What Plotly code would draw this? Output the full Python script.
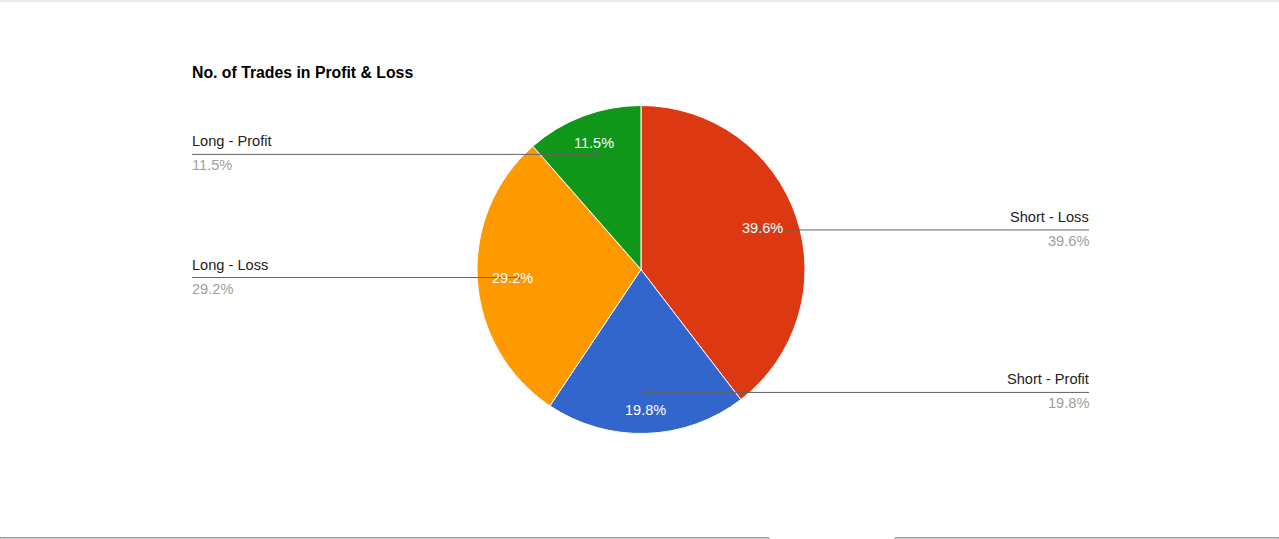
import math
import plotly.graph_objects as go

# ---- data ----
labels = ["Short - Loss", "Short - Profit", "Long - Loss", "Long - Profit"]
values = [38, 19, 28, 11]
colors = ["#DC3912", "#3366CC", "#FF9900", "#109618"]
title = "No. of Trades in Profit & Loss"

# ---- layout constants (pixels) ----
W, H = 1279, 539
CX, CY, R = 641, 269.5, 164
LEFT_X, RIGHT_X = 192, 1089
FONT = "Liberation Sans, Arial, sans-serif"


def px(x):
    return x / W


def py(y):
    return 1 - y / H


total = sum(values)
pcts = [f"{v / total * 100:.1f}%" for v in values]

fig = go.Figure()
fig.add_trace(go.Pie(
    labels=labels, values=values, sort=False, direction="clockwise", rotation=0,
    marker=dict(colors=colors, line=dict(color="white", width=1)),
    textinfo="none", hoverinfo="label+percent", showlegend=False,
    domain=dict(x=[px(CX - R), px(CX + R)], y=[py(CY + R), py(CY - R)]),
))

annotations = []
shapes = []
dot_x, dot_y = [], []
cum = 0
for lab, v, pct in zip(labels, values, pcts):
    mid = (cum + v / 2) / total * 2 * math.pi
    cum += v
    ux, uy = math.sin(mid), -math.cos(mid)  # screen coords (y down)
    # leader dot
    dx, dy = CX + 0.75 * R * ux, CY + 0.75 * R * uy
    dot_x.append(dx)
    dot_y.append(dy)
    # inside percentage text: outer corner of text box at ~0.91R
    hw, hh = 20, 7
    sx, sy = math.copysign(hw, ux), math.copysign(hh, uy)
    us = ux * sx + uy * sy
    rt = 0.91 * R
    r = -us + math.sqrt(us * us - (sx * sx + sy * sy) + rt * rt)
    annotations.append(dict(
        x=px(CX + r * ux), y=py(CY + r * uy), xref="paper", yref="paper",
        text=pct, showarrow=False, xanchor="center", yanchor="middle",
        font=dict(family=FONT, size=14.5, color="white"),
    ))
    # leader line + side labels
    if ux >= 0:
        x0, x1, lx, anc, xs = dx, RIGHT_X, RIGHT_X, "right", 2
    else:
        x0, x1, lx, anc, xs = LEFT_X, dx, LEFT_X, "left", -2
    shapes.append(dict(type="line", xref="paper", yref="paper",
                       x0=px(x0), x1=px(x1), y0=py(dy), y1=py(dy),
                       line=dict(color="#636363", width=1)))
    annotations.append(dict(
        x=px(lx), y=py(dy - 13), xref="paper", yref="paper", text=lab,
        showarrow=False, xanchor=anc, yanchor="middle", xshift=xs,
        font=dict(family=FONT, size=14.6, color="#222222"),
    ))
    annotations.append(dict(
        x=px(lx), y=py(dy + 11), xref="paper", yref="paper", text=pct,
        showarrow=False, xanchor=anc, yanchor="middle", xshift=xs,
        font=dict(family=FONT, size=14.6, color="#9e9e9e"),
    ))

# leader dots
for dx, dy in zip(dot_x, dot_y):
    shapes.append(dict(type="circle", xref="paper", yref="paper",
                       x0=px(dx - 2), x1=px(dx + 2), y0=py(dy + 2), y1=py(dy - 2),
                       fillcolor="#636363", line=dict(width=0)))

# title
annotations.append(dict(
    x=px(LEFT_X), y=py(72), xref="paper", yref="paper", text=f"<b>{title}</b>",
    showarrow=False, xanchor="left", yanchor="middle", xshift=-2,
    font=dict(family=FONT, size=15.8, color="#000000"),
))

# page borders
shapes.append(dict(type="line", xref="paper", yref="paper", x0=0, x1=1,
                   y0=py(1), y1=py(1), line=dict(color="#d4d4d4", width=1)))
for a, b in [(0, 769), (895, 1279)]:
    shapes.append(dict(type="rect", xref="paper", yref="paper", x0=px(a), x1=px(b),
                       y0=py(539), y1=py(537.5), fillcolor="#eeeeee",
                       line=dict(color="#a0a0a0", width=1)))

fig.update_layout(
    width=W, height=H, margin=dict(l=0, r=0, t=0, b=0),
    paper_bgcolor="white", plot_bgcolor="white",
    annotations=annotations, shapes=shapes, showlegend=False,
    font=dict(family=FONT),
)

fig.write_html("out.html", config={"displayModeBar": False},
               post_script="document.body.style.margin='0';")
